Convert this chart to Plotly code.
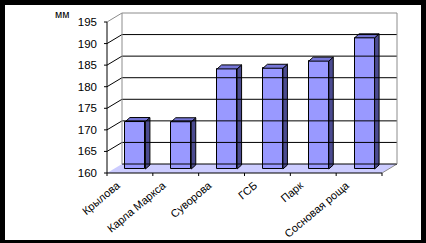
import plotly.graph_objects as go

categories = ["Крылова", "Карла Маркса", "Суворова", "ГСБ", "Парк", "Сосновая роща"]
values = [171.0, 170.95, 183.2, 183.35, 185.0, 190.4]
y_ticks = [160, 165, 170, 175, 180, 185, 190, 195]
y_unit = "мм"

W, H = 426, 243
PPC = 45.83          # px per category
PPU = 4.314          # px per value unit
DX = 15 / PPC        # wall depth (category units)
DY = 9 / PPU         # wall depth (value units)
PAD = 3
Y0, Y1 = y_ticks[0], y_ticks[-1]
n = len(categories)
X0, X1 = -0.5, n - 0.5

# bar geometry (relative)
SX, SY = 5.5 / PPC, 4 / PPU
BW = 20 / PPC
BDX, BDY = 4.5 / PPC, 4 / PPU

FRONT = "#9999FF"
SIDE = "#4B4B90"
TOP = "#7676D8"
FLOOR = "#CCCCFF"
GRAY = "#8C8C8C"

fig = go.Figure()

shapes = []
# white page inside black frame
ml, mr, mt, mb = 107 - PAD, W - (397 + PAD), 13 - PAD, H - (173 + PAD)
pw, ph = W - ml - mr, H - mt - mb
def px2paper(xp, yp):
    return (xp - ml) / pw, (H - mb - yp) / ph
ax0, ay0 = px2paper(5, 240)
ax1, ay1 = px2paper(421, 5)
shapes.append(dict(type="rect", xref="paper", yref="paper", x0=ax0, y0=ay0, x1=ax1, y1=ay1,
                   fillcolor="white", line=dict(width=0), layer="below"))

# floor
shapes.append(dict(type="path", xref="x", yref="y",
                   path=f"M {X0},{Y0} L {X0+DX},{Y0+DY} L {X1+DX},{Y0+DY} L {X1},{Y0} Z",
                   fillcolor=FLOOR, line=dict(width=0), layer="below"))
# floor right edge
shapes.append(dict(type="line", xref="x", yref="y", x0=X1, y0=Y0, x1=X1+DX, y1=Y0+DY,
                   line=dict(color=GRAY, width=1)))
# gridlines on side wall and back wall
for v in y_ticks:
    col = GRAY if v == Y1 else "black"
    if v != Y0:
        shapes.append(dict(type="line", xref="x", yref="y", x0=X0, y0=v, x1=X0+DX, y1=v+DY,
                           line=dict(color=col, width=1)))
    shapes.append(dict(type="line", xref="x", yref="y", x0=X0+DX, y0=v+DY, x1=X1+DX, y1=v+DY,
                       line=dict(color=col, width=1)))
# back wall verticals
for xv in (X0 + DX, X1 + DX):
    shapes.append(dict(type="line", xref="x", yref="y", x0=xv, y0=Y0+DY, x1=xv, y1=Y1+DY,
                       line=dict(color=GRAY, width=1)))
# front axes
shapes.append(dict(type="line", xref="x", yref="y", x0=X0, y0=Y0, x1=X0, y1=Y1,
                   line=dict(color="black", width=1)))
shapes.append(dict(type="line", xref="x", yref="y", x0=X0, y0=Y0, x1=X1, y1=Y0,
                   line=dict(color="black", width=1)))
for v in y_ticks:
    shapes.append(dict(type="line", xref="x", yref="y", x0=X0 - 5 / PPC, y0=v, x1=X0, y1=v,
                       line=dict(color="black", width=1)))
for k in range(n + 1):
    xb = X0 + k
    shapes.append(dict(type="line", xref="x", yref="y", x0=xb, y0=Y0, x1=xb, y1=Y0 - 5 / PPU,
                       line=dict(color="black", width=1)))

# bars: front faces
fig.add_trace(go.Bar(
    x=[i + SX for i in range(n)], y=[v - Y0 for v in values], base=Y0 + SY,
    width=BW, marker=dict(color=FRONT, line=dict(color="black", width=1)),
    showlegend=False, hoverinfo="skip"))
# side and top faces
for i, v in enumerate(values):
    xl = i + SX - BW / 2
    xr = i + SX + BW / 2
    yb = Y0 + SY
    yt = v + SY
    fig.add_trace(go.Scatter(
        x=[xr, xr + BDX, xr + BDX, xr, xr], y=[yb, yb + BDY, yt + BDY, yt, yb],
        mode="lines", fill="toself", fillcolor=SIDE, line=dict(color="black", width=1),
        showlegend=False, hoverinfo="skip"))
    fig.add_trace(go.Scatter(
        x=[xl, xr, xr + BDX, xl + BDX, xl], y=[yt, yt, yt + BDY, yt + BDY, yt],
        mode="lines", fill="toself", fillcolor=TOP, line=dict(color="black", width=1),
        showlegend=False, hoverinfo="skip"))

ux, uy = px2paper(62, 14)
fig.update_layout(
    width=W, height=H,
    margin=dict(l=ml, r=mr, t=mt, b=mb, pad=0, autoexpand=False),
    paper_bgcolor="black", plot_bgcolor="white",
    font=dict(family="Liberation Sans, Arial, sans-serif", color="black", size=11),
    shapes=shapes,
    annotations=[dict(text=y_unit, xref="paper", yref="paper", x=ux, y=uy,
                      showarrow=False, font=dict(size=10.5), xanchor="center", yanchor="middle")],
    xaxis=dict(range=[X0 - PAD / PPC, X1 + DX + PAD / PPC], showgrid=False, zeroline=False,
               showline=False, ticks="", tickmode="array", automargin=False,
               tickvals=[i - 0.28 for i in range(n)], ticktext=categories, tickangle=-40,
               tickfont=dict(size=11)),
    yaxis=dict(range=[Y0 - PAD / PPU, Y1 + DY + PAD / PPU], showgrid=False, zeroline=False,
               showline=False, ticks="", tickmode="array", tickvals=y_ticks, automargin=False,
               tickfont=dict(size=11.5), ticklabelstandoff=6),
    bargap=0,
)

fig.write_html("out.html")
